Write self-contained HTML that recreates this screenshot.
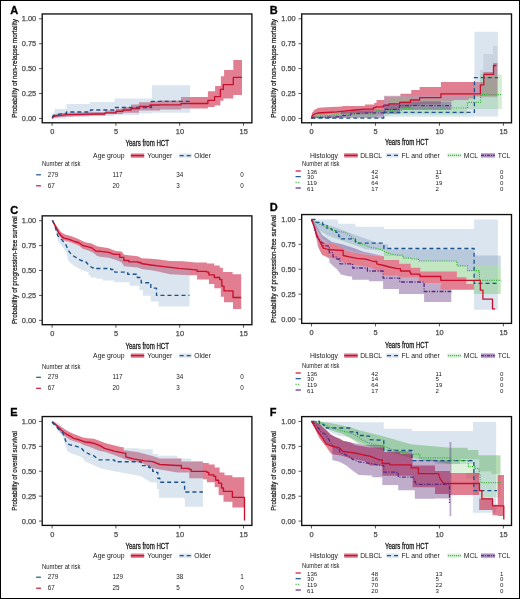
<!DOCTYPE html><html><head><meta charset="utf-8"><style>html,body{margin:0;padding:0;background:#fff;}svg{display:block;will-change:transform;}</style></head><body><svg width="520" height="599" viewBox="0 0 520 599" font-family='"Liberation Sans", sans-serif'>
<rect x="0" y="0" width="520" height="599" fill="#fff"/>
<text x="10.30" y="13.70" font-size="11.0" font-weight="bold" fill="#000" stroke="#000" stroke-width="0.3">A</text>
<text x="0" y="0" font-size="7.6" fill="#1a1a1a" stroke="#1a1a1a" stroke-width="0.25" text-anchor="middle" textLength="98.9" lengthAdjust="spacingAndGlyphs" transform="translate(16.60,68.38) rotate(-90)">Probability of non-relapse mortality</text>
<line x1="39.00" y1="18.80" x2="42.20" y2="18.80" stroke="#444" stroke-width="0.9"/>
<text x="36.20" y="21.45" font-size="7.4" text-anchor="end" fill="#4d4d4d" stroke="#4d4d4d" stroke-width="0.25">1.00</text>
<line x1="39.00" y1="43.71" x2="42.20" y2="43.71" stroke="#444" stroke-width="0.9"/>
<text x="36.20" y="46.36" font-size="7.4" text-anchor="end" fill="#4d4d4d" stroke="#4d4d4d" stroke-width="0.25">0.75</text>
<line x1="39.00" y1="68.62" x2="42.20" y2="68.62" stroke="#444" stroke-width="0.9"/>
<text x="36.20" y="71.28" font-size="7.4" text-anchor="end" fill="#4d4d4d" stroke="#4d4d4d" stroke-width="0.25">0.50</text>
<line x1="39.00" y1="93.54" x2="42.20" y2="93.54" stroke="#444" stroke-width="0.9"/>
<text x="36.20" y="96.19" font-size="7.4" text-anchor="end" fill="#4d4d4d" stroke="#4d4d4d" stroke-width="0.25">0.25</text>
<line x1="39.00" y1="118.45" x2="42.20" y2="118.45" stroke="#444" stroke-width="0.9"/>
<text x="36.20" y="121.10" font-size="7.4" text-anchor="end" fill="#4d4d4d" stroke="#4d4d4d" stroke-width="0.25">0.00</text>
<line x1="52.10" y1="122.80" x2="52.10" y2="125.80" stroke="#444" stroke-width="0.9"/>
<text x="52.30" y="134.40" font-size="7.4" text-anchor="middle" fill="#4d4d4d" stroke="#4d4d4d" stroke-width="0.25">0</text>
<line x1="115.90" y1="122.80" x2="115.90" y2="125.80" stroke="#444" stroke-width="0.9"/>
<text x="116.10" y="134.40" font-size="7.4" text-anchor="middle" fill="#4d4d4d" stroke="#4d4d4d" stroke-width="0.25">5</text>
<line x1="179.70" y1="122.80" x2="179.70" y2="125.80" stroke="#444" stroke-width="0.9"/>
<text x="179.90" y="134.40" font-size="7.4" text-anchor="middle" fill="#4d4d4d" stroke="#4d4d4d" stroke-width="0.25">10</text>
<line x1="243.50" y1="122.80" x2="243.50" y2="125.80" stroke="#444" stroke-width="0.9"/>
<text x="243.70" y="134.40" font-size="7.4" text-anchor="middle" fill="#4d4d4d" stroke="#4d4d4d" stroke-width="0.25">15</text>
<text x="125.40" y="145.80" font-size="8.3" textLength="43.6" lengthAdjust="spacingAndGlyphs" fill="#1a1a1a" stroke="#1a1a1a" stroke-width="0.3">Years from HCT</text>
<text x="269.80" y="13.70" font-size="11.0" font-weight="bold" fill="#000" stroke="#000" stroke-width="0.3">B</text>
<text x="0" y="0" font-size="7.6" fill="#1a1a1a" stroke="#1a1a1a" stroke-width="0.25" text-anchor="middle" textLength="98.9" lengthAdjust="spacingAndGlyphs" transform="translate(276.10,68.38) rotate(-90)">Probability of non-relapse mortality</text>
<line x1="298.50" y1="18.80" x2="301.70" y2="18.80" stroke="#444" stroke-width="0.9"/>
<text x="295.70" y="21.45" font-size="7.4" text-anchor="end" fill="#4d4d4d" stroke="#4d4d4d" stroke-width="0.25">1.00</text>
<line x1="298.50" y1="43.71" x2="301.70" y2="43.71" stroke="#444" stroke-width="0.9"/>
<text x="295.70" y="46.36" font-size="7.4" text-anchor="end" fill="#4d4d4d" stroke="#4d4d4d" stroke-width="0.25">0.75</text>
<line x1="298.50" y1="68.62" x2="301.70" y2="68.62" stroke="#444" stroke-width="0.9"/>
<text x="295.70" y="71.28" font-size="7.4" text-anchor="end" fill="#4d4d4d" stroke="#4d4d4d" stroke-width="0.25">0.50</text>
<line x1="298.50" y1="93.54" x2="301.70" y2="93.54" stroke="#444" stroke-width="0.9"/>
<text x="295.70" y="96.19" font-size="7.4" text-anchor="end" fill="#4d4d4d" stroke="#4d4d4d" stroke-width="0.25">0.25</text>
<line x1="298.50" y1="118.45" x2="301.70" y2="118.45" stroke="#444" stroke-width="0.9"/>
<text x="295.70" y="121.10" font-size="7.4" text-anchor="end" fill="#4d4d4d" stroke="#4d4d4d" stroke-width="0.25">0.00</text>
<line x1="311.45" y1="122.80" x2="311.45" y2="125.80" stroke="#444" stroke-width="0.9"/>
<text x="311.65" y="134.40" font-size="7.4" text-anchor="middle" fill="#4d4d4d" stroke="#4d4d4d" stroke-width="0.25">0</text>
<line x1="375.44" y1="122.80" x2="375.44" y2="125.80" stroke="#444" stroke-width="0.9"/>
<text x="375.63" y="134.40" font-size="7.4" text-anchor="middle" fill="#4d4d4d" stroke="#4d4d4d" stroke-width="0.25">5</text>
<line x1="439.42" y1="122.80" x2="439.42" y2="125.80" stroke="#444" stroke-width="0.9"/>
<text x="439.62" y="134.40" font-size="7.4" text-anchor="middle" fill="#4d4d4d" stroke="#4d4d4d" stroke-width="0.25">10</text>
<line x1="503.40" y1="122.80" x2="503.40" y2="125.80" stroke="#444" stroke-width="0.9"/>
<text x="503.60" y="134.40" font-size="7.4" text-anchor="middle" fill="#4d4d4d" stroke="#4d4d4d" stroke-width="0.25">15</text>
<text x="384.90" y="145.30" font-size="8.3" textLength="43.6" lengthAdjust="spacingAndGlyphs" fill="#1a1a1a" stroke="#1a1a1a" stroke-width="0.3">Years from HCT</text>
<text x="10.30" y="213.50" font-size="11.0" font-weight="bold" fill="#000" stroke="#000" stroke-width="0.3">C</text>
<text x="0" y="0" font-size="7.6" fill="#1a1a1a" stroke="#1a1a1a" stroke-width="0.25" text-anchor="middle" textLength="107.7" lengthAdjust="spacingAndGlyphs" transform="translate(16.60,270.27) rotate(-90)">Probability of progression-free survival</text>
<line x1="39.00" y1="220.70" x2="42.20" y2="220.70" stroke="#444" stroke-width="0.9"/>
<text x="36.20" y="223.35" font-size="7.4" text-anchor="end" fill="#4d4d4d" stroke="#4d4d4d" stroke-width="0.25">1.00</text>
<line x1="39.00" y1="245.61" x2="42.20" y2="245.61" stroke="#444" stroke-width="0.9"/>
<text x="36.20" y="248.26" font-size="7.4" text-anchor="end" fill="#4d4d4d" stroke="#4d4d4d" stroke-width="0.25">0.75</text>
<line x1="39.00" y1="270.53" x2="42.20" y2="270.53" stroke="#444" stroke-width="0.9"/>
<text x="36.20" y="273.18" font-size="7.4" text-anchor="end" fill="#4d4d4d" stroke="#4d4d4d" stroke-width="0.25">0.50</text>
<line x1="39.00" y1="295.44" x2="42.20" y2="295.44" stroke="#444" stroke-width="0.9"/>
<text x="36.20" y="298.09" font-size="7.4" text-anchor="end" fill="#4d4d4d" stroke="#4d4d4d" stroke-width="0.25">0.25</text>
<line x1="39.00" y1="320.35" x2="42.20" y2="320.35" stroke="#444" stroke-width="0.9"/>
<text x="36.20" y="323.00" font-size="7.4" text-anchor="end" fill="#4d4d4d" stroke="#4d4d4d" stroke-width="0.25">0.00</text>
<line x1="52.10" y1="324.70" x2="52.10" y2="327.70" stroke="#444" stroke-width="0.9"/>
<text x="52.30" y="336.30" font-size="7.4" text-anchor="middle" fill="#4d4d4d" stroke="#4d4d4d" stroke-width="0.25">0</text>
<line x1="115.90" y1="324.70" x2="115.90" y2="327.70" stroke="#444" stroke-width="0.9"/>
<text x="116.10" y="336.30" font-size="7.4" text-anchor="middle" fill="#4d4d4d" stroke="#4d4d4d" stroke-width="0.25">5</text>
<line x1="179.70" y1="324.70" x2="179.70" y2="327.70" stroke="#444" stroke-width="0.9"/>
<text x="179.90" y="336.30" font-size="7.4" text-anchor="middle" fill="#4d4d4d" stroke="#4d4d4d" stroke-width="0.25">10</text>
<line x1="243.50" y1="324.70" x2="243.50" y2="327.70" stroke="#444" stroke-width="0.9"/>
<text x="243.70" y="336.30" font-size="7.4" text-anchor="middle" fill="#4d4d4d" stroke="#4d4d4d" stroke-width="0.25">15</text>
<text x="125.40" y="348.60" font-size="8.3" textLength="43.6" lengthAdjust="spacingAndGlyphs" fill="#1a1a1a" stroke="#1a1a1a" stroke-width="0.3">Years from HCT</text>
<text x="269.80" y="211.40" font-size="11.0" font-weight="bold" fill="#000" stroke="#000" stroke-width="0.3">D</text>
<text x="0" y="0" font-size="7.6" fill="#1a1a1a" stroke="#1a1a1a" stroke-width="0.25" text-anchor="middle" textLength="107.7" lengthAdjust="spacingAndGlyphs" transform="translate(276.10,268.98) rotate(-90)">Probability of progression-free survival</text>
<line x1="298.50" y1="219.40" x2="301.70" y2="219.40" stroke="#444" stroke-width="0.9"/>
<text x="295.70" y="222.05" font-size="7.4" text-anchor="end" fill="#4d4d4d" stroke="#4d4d4d" stroke-width="0.25">1.00</text>
<line x1="298.50" y1="244.31" x2="301.70" y2="244.31" stroke="#444" stroke-width="0.9"/>
<text x="295.70" y="246.96" font-size="7.4" text-anchor="end" fill="#4d4d4d" stroke="#4d4d4d" stroke-width="0.25">0.75</text>
<line x1="298.50" y1="269.23" x2="301.70" y2="269.23" stroke="#444" stroke-width="0.9"/>
<text x="295.70" y="271.88" font-size="7.4" text-anchor="end" fill="#4d4d4d" stroke="#4d4d4d" stroke-width="0.25">0.50</text>
<line x1="298.50" y1="294.14" x2="301.70" y2="294.14" stroke="#444" stroke-width="0.9"/>
<text x="295.70" y="296.79" font-size="7.4" text-anchor="end" fill="#4d4d4d" stroke="#4d4d4d" stroke-width="0.25">0.25</text>
<line x1="298.50" y1="319.05" x2="301.70" y2="319.05" stroke="#444" stroke-width="0.9"/>
<text x="295.70" y="321.70" font-size="7.4" text-anchor="end" fill="#4d4d4d" stroke="#4d4d4d" stroke-width="0.25">0.00</text>
<line x1="311.45" y1="323.40" x2="311.45" y2="326.40" stroke="#444" stroke-width="0.9"/>
<text x="311.65" y="335.00" font-size="7.4" text-anchor="middle" fill="#4d4d4d" stroke="#4d4d4d" stroke-width="0.25">0</text>
<line x1="375.44" y1="323.40" x2="375.44" y2="326.40" stroke="#444" stroke-width="0.9"/>
<text x="375.63" y="335.00" font-size="7.4" text-anchor="middle" fill="#4d4d4d" stroke="#4d4d4d" stroke-width="0.25">5</text>
<line x1="439.42" y1="323.40" x2="439.42" y2="326.40" stroke="#444" stroke-width="0.9"/>
<text x="439.62" y="335.00" font-size="7.4" text-anchor="middle" fill="#4d4d4d" stroke="#4d4d4d" stroke-width="0.25">10</text>
<line x1="503.40" y1="323.40" x2="503.40" y2="326.40" stroke="#444" stroke-width="0.9"/>
<text x="503.60" y="335.00" font-size="7.4" text-anchor="middle" fill="#4d4d4d" stroke="#4d4d4d" stroke-width="0.25">15</text>
<text x="384.90" y="347.90" font-size="8.3" textLength="43.6" lengthAdjust="spacingAndGlyphs" fill="#1a1a1a" stroke="#1a1a1a" stroke-width="0.3">Years from HCT</text>
<text x="10.30" y="415.50" font-size="11.0" font-weight="bold" fill="#000" stroke="#000" stroke-width="0.3">E</text>
<text x="0" y="0" font-size="7.6" fill="#1a1a1a" stroke="#1a1a1a" stroke-width="0.25" text-anchor="middle" textLength="79.6" lengthAdjust="spacingAndGlyphs" transform="translate(16.60,470.98) rotate(-90)">Probability of overall survival</text>
<line x1="39.00" y1="421.40" x2="42.20" y2="421.40" stroke="#444" stroke-width="0.9"/>
<text x="36.20" y="424.05" font-size="7.4" text-anchor="end" fill="#4d4d4d" stroke="#4d4d4d" stroke-width="0.25">1.00</text>
<line x1="39.00" y1="446.31" x2="42.20" y2="446.31" stroke="#444" stroke-width="0.9"/>
<text x="36.20" y="448.96" font-size="7.4" text-anchor="end" fill="#4d4d4d" stroke="#4d4d4d" stroke-width="0.25">0.75</text>
<line x1="39.00" y1="471.23" x2="42.20" y2="471.23" stroke="#444" stroke-width="0.9"/>
<text x="36.20" y="473.88" font-size="7.4" text-anchor="end" fill="#4d4d4d" stroke="#4d4d4d" stroke-width="0.25">0.50</text>
<line x1="39.00" y1="496.14" x2="42.20" y2="496.14" stroke="#444" stroke-width="0.9"/>
<text x="36.20" y="498.79" font-size="7.4" text-anchor="end" fill="#4d4d4d" stroke="#4d4d4d" stroke-width="0.25">0.25</text>
<line x1="39.00" y1="521.05" x2="42.20" y2="521.05" stroke="#444" stroke-width="0.9"/>
<text x="36.20" y="523.70" font-size="7.4" text-anchor="end" fill="#4d4d4d" stroke="#4d4d4d" stroke-width="0.25">0.00</text>
<line x1="52.10" y1="525.40" x2="52.10" y2="528.40" stroke="#444" stroke-width="0.9"/>
<text x="52.30" y="537.00" font-size="7.4" text-anchor="middle" fill="#4d4d4d" stroke="#4d4d4d" stroke-width="0.25">0</text>
<line x1="115.90" y1="525.40" x2="115.90" y2="528.40" stroke="#444" stroke-width="0.9"/>
<text x="116.10" y="537.00" font-size="7.4" text-anchor="middle" fill="#4d4d4d" stroke="#4d4d4d" stroke-width="0.25">5</text>
<line x1="179.70" y1="525.40" x2="179.70" y2="528.40" stroke="#444" stroke-width="0.9"/>
<text x="179.90" y="537.00" font-size="7.4" text-anchor="middle" fill="#4d4d4d" stroke="#4d4d4d" stroke-width="0.25">10</text>
<line x1="243.50" y1="525.40" x2="243.50" y2="528.40" stroke="#444" stroke-width="0.9"/>
<text x="243.70" y="537.00" font-size="7.4" text-anchor="middle" fill="#4d4d4d" stroke="#4d4d4d" stroke-width="0.25">15</text>
<text x="125.40" y="549.00" font-size="8.3" textLength="43.6" lengthAdjust="spacingAndGlyphs" fill="#1a1a1a" stroke="#1a1a1a" stroke-width="0.3">Years from HCT</text>
<text x="269.80" y="415.50" font-size="11.0" font-weight="bold" fill="#000" stroke="#000" stroke-width="0.3">F</text>
<text x="0" y="0" font-size="7.6" fill="#1a1a1a" stroke="#1a1a1a" stroke-width="0.25" text-anchor="middle" textLength="79.6" lengthAdjust="spacingAndGlyphs" transform="translate(276.10,471.02) rotate(-90)">Probability of overall survival</text>
<line x1="298.50" y1="421.45" x2="301.70" y2="421.45" stroke="#444" stroke-width="0.9"/>
<text x="295.70" y="424.10" font-size="7.4" text-anchor="end" fill="#4d4d4d" stroke="#4d4d4d" stroke-width="0.25">1.00</text>
<line x1="298.50" y1="446.36" x2="301.70" y2="446.36" stroke="#444" stroke-width="0.9"/>
<text x="295.70" y="449.01" font-size="7.4" text-anchor="end" fill="#4d4d4d" stroke="#4d4d4d" stroke-width="0.25">0.75</text>
<line x1="298.50" y1="471.28" x2="301.70" y2="471.28" stroke="#444" stroke-width="0.9"/>
<text x="295.70" y="473.93" font-size="7.4" text-anchor="end" fill="#4d4d4d" stroke="#4d4d4d" stroke-width="0.25">0.50</text>
<line x1="298.50" y1="496.19" x2="301.70" y2="496.19" stroke="#444" stroke-width="0.9"/>
<text x="295.70" y="498.84" font-size="7.4" text-anchor="end" fill="#4d4d4d" stroke="#4d4d4d" stroke-width="0.25">0.25</text>
<line x1="298.50" y1="521.10" x2="301.70" y2="521.10" stroke="#444" stroke-width="0.9"/>
<text x="295.70" y="523.75" font-size="7.4" text-anchor="end" fill="#4d4d4d" stroke="#4d4d4d" stroke-width="0.25">0.00</text>
<line x1="311.45" y1="525.45" x2="311.45" y2="528.45" stroke="#444" stroke-width="0.9"/>
<text x="311.65" y="537.05" font-size="7.4" text-anchor="middle" fill="#4d4d4d" stroke="#4d4d4d" stroke-width="0.25">0</text>
<line x1="375.44" y1="525.45" x2="375.44" y2="528.45" stroke="#444" stroke-width="0.9"/>
<text x="375.63" y="537.05" font-size="7.4" text-anchor="middle" fill="#4d4d4d" stroke="#4d4d4d" stroke-width="0.25">5</text>
<line x1="439.42" y1="525.45" x2="439.42" y2="528.45" stroke="#444" stroke-width="0.9"/>
<text x="439.62" y="537.05" font-size="7.4" text-anchor="middle" fill="#4d4d4d" stroke="#4d4d4d" stroke-width="0.25">10</text>
<line x1="503.40" y1="525.45" x2="503.40" y2="528.45" stroke="#444" stroke-width="0.9"/>
<text x="503.60" y="537.05" font-size="7.4" text-anchor="middle" fill="#4d4d4d" stroke="#4d4d4d" stroke-width="0.25">15</text>
<text x="384.90" y="548.70" font-size="8.3" textLength="43.6" lengthAdjust="spacingAndGlyphs" fill="#1a1a1a" stroke="#1a1a1a" stroke-width="0.3">Years from HCT</text>
<path d="M52.1,117.5 53.0,115.0 56.0,114.0 62.0,113.0 80.0,112.5 95.0,111.9 105.0,111.9 105.0,110.6 116.0,110.6 116.0,108.8 123.0,108.8 123.0,106.9 131.0,106.9 131.0,104.4 139.0,104.4 139.0,102.2 150.0,102.2 150.0,101.2 160.0,101.2 160.0,100.5 181.0,100.5 181.0,97.1 207.9,97.1 207.9,91.2 215.1,91.2 215.1,85.9 220.9,85.9 220.9,76.2 224.1,76.2 224.1,70.1 233.3,70.1 233.3,60.1 242.0,60.1 242.0,95.0 233.3,95.0 233.3,98.4 223.5,98.4 223.5,100.8 220.4,100.8 220.4,105.6 214.6,105.6 214.6,107.1 207.9,107.1 207.9,108.4 181.0,108.4 181.0,109.5 160.0,109.5 160.0,110.6 139.0,110.6 139.0,112.8 123.0,112.8 123.0,114.0 105.0,114.0 105.0,115.6 95.0,115.6 70.0,116.5 55.0,117.5 52.1,118.6Z" fill="rgba(200,20,55,0.55)"/>
<path d="M52.1,113.5 54.5,113.5 54.5,109.0 66.5,109.0 66.5,104.0 90.0,104.0 90.0,101.9 114.4,101.9 114.4,98.5 151.9,98.5 151.9,85.2 190.0,85.2 190.0,112.7 151.9,112.7 151.9,113.5 139.0,113.5 139.0,115.0 114.4,115.0 114.4,116.0 90.0,116.0 90.0,117.0 66.5,117.0 66.5,118.4 52.1,118.4Z" fill="rgba(150,180,210,0.35)"/>
<path d="M52.1,118.4 53.0,116.8 55.0,116.0 60.0,115.3 68.0,114.7 80.0,114.3 95.0,114.0 105.0,114.0 105.0,112.8 116.2,112.8 116.2,111.2 123.0,111.2 123.0,110.0 131.2,110.0 131.2,108.5 139.4,108.5 139.4,106.5 150.0,106.5 150.0,105.0 160.0,105.0 160.0,104.8 181.0,104.8 181.0,103.5 207.9,103.5 207.9,100.3 214.6,100.3 214.6,96.6 220.4,96.6 220.4,89.4 223.3,89.4 223.3,84.6 233.3,84.6 233.3,77.4 242.1,77.4" fill="none" stroke="#c8102e" stroke-width="1.35" stroke-linejoin="round"/>
<path d="M52.1,117.5 53.5,115.5 57.0,114.5 63.0,113.5 66.5,113.5 66.5,112.0 90.5,112.0 90.5,110.0 113.8,110.0 113.8,107.5 151.5,107.5 151.5,101.4 190.0,101.4" fill="none" stroke="#1a528c" stroke-width="1.35" stroke-dasharray="4,3" stroke-linejoin="round"/>
<path d="M52.4,220.0 56.6,226.0 60.9,231.9 65.1,234.6 71.5,236.2 76.7,238.3 81.5,240.4 85.2,242.3 91.6,243.6 96.9,246.2 100.0,246.7 108.7,248.3 115.7,250.9 121.5,251.4 124.2,254.8 137.7,256.2 141.7,258.2 151.1,258.8 159.2,259.5 170.0,260.9 183.1,261.3 196.0,262.4 206.8,262.4 206.8,263.5 214.3,263.5 214.3,265.6 219.7,265.6 219.7,267.8 222.9,267.8 222.9,272.1 232.6,272.1 232.6,274.2 241.2,274.2 241.2,309.1 233.0,309.1 233.0,302.2 224.0,302.2 224.0,296.8 220.8,296.8 220.8,288.2 214.3,288.2 214.3,283.9 208.9,283.9 208.9,279.6 197.1,279.6 197.1,275.3 189.5,275.3 170.0,274.3 157.9,271.6 151.1,270.3 141.7,268.9 137.7,267.6 124.2,266.2 121.5,262.2 114.8,259.5 108.7,257.8 100.0,256.8 96.9,255.7 93.7,253.1 88.4,250.4 83.1,248.9 78.9,245.7 73.6,243.6 68.3,241.5 62.5,239.9 58.2,234.6 52.4,221.0Z" fill="rgba(200,20,55,0.55)"/>
<path d="M52.9,221.0 56.6,228.6 59.8,235.5 62.5,239.7 69.3,241.8 74.6,244.0 83.1,248.2 91.6,250.3 95.8,252.5 106.7,254.0 114.8,255.3 117.5,255.3 117.5,257.3 121.5,257.3 121.5,258.0 124.2,258.0 124.2,260.7 126.9,260.7 126.9,262.0 137.7,262.0 137.7,263.1 141.7,263.1 141.7,264.7 151.1,264.7 151.1,265.4 156.5,265.4 156.5,266.7 164.6,266.7 164.6,267.4 178.8,268.9 189.5,268.9 189.5,306.6 158.5,306.6 158.5,301.5 150.8,301.5 150.8,295.8 143.0,295.8 143.0,290.0 139.2,290.0 139.2,285.8 129.6,285.8 129.6,282.3 114.2,282.3 114.2,280.4 102.7,280.4 102.7,278.8 96.5,278.8 96.5,277.6 90.5,277.6 90.5,275.0 88.4,275.0 88.4,272.1 87.3,272.1 82.0,270.0 77.8,267.9 72.5,264.7 68.3,260.5 66.2,252.0 62.5,246.7 58.2,241.5 55.6,229.8 52.9,221.3Z" fill="rgba(150,180,210,0.35)"/>
<path d="M52.4,220.3 55.6,226.6 58.8,233.0 62.5,237.2 64.0,238.1 69.3,239.3 74.6,241.5 78.9,242.7 83.1,245.7 87.3,246.7 91.6,247.8 95.8,251.0 100.6,251.4 108.7,252.4 114.2,254.4 119.8,254.4 119.8,257.4 123.8,257.4 123.8,260.5 128.9,260.5 128.9,261.9 138.0,261.9 138.0,262.5 141.0,262.5 141.0,263.5 150.8,265.0 163.7,266.7 178.8,268.4 196.0,269.9 197.1,269.9 197.1,271.4 206.8,271.4 206.8,272.1 208.9,272.1 208.9,274.9 214.3,274.9 214.3,277.5 219.7,277.5 219.7,279.6 221.8,279.6 221.8,286.1 224.0,286.1 224.0,290.8 233.0,290.8 233.0,297.5 241.2,297.5" fill="none" stroke="#c8102e" stroke-width="1.35" stroke-linejoin="round"/>
<path d="M52.4,220.3 55.1,226.6 57.7,235.6 61.9,239.9 65.6,244.1 68.3,250.4 71.5,254.7 75.7,257.3 81.0,260.5 85.2,261.0 89.4,265.8 92.6,267.9 96.5,267.9 96.5,268.5 110.7,268.5 110.7,269.5 114.7,269.5 114.7,272.1 127.7,272.1 127.7,274.2 137.3,274.2 137.3,277.5 141.2,277.5 141.2,282.7 150.8,282.7 150.8,288.1 156.5,288.1 156.5,295.4 189.5,295.4" fill="none" stroke="#1a528c" stroke-width="1.35" stroke-dasharray="4,3" stroke-linejoin="round"/>
<path d="M52.4,421.2 56.6,424.0 61.9,427.2 66.2,430.3 72.5,433.5 76.7,435.1 82.0,437.2 87.3,438.3 93.7,438.8 100.0,440.9 106.5,443.5 121.9,447.3 123.8,447.3 123.8,450.2 137.3,452.1 152.7,456.0 159.8,458.6 177.5,458.6 177.5,458.6 181.4,458.6 181.4,461.6 202.9,461.6 202.9,463.1 208.8,463.1 208.8,464.5 214.7,464.5 214.7,467.5 219.6,467.5 219.6,472.4 224.5,472.4 224.5,475.3 232.4,475.3 232.4,477.3 244.3,477.3 244.3,507.6 232.4,507.6 232.4,501.8 223.5,501.8 223.5,494.9 218.6,494.9 218.6,487.1 214.7,487.1 214.7,482.2 206.9,482.2 206.9,479.2 202.9,479.2 202.9,478.2 189.2,478.2 189.2,472.4 177.5,472.4 159.8,469.4 150.0,467.5 145.0,464.6 141.2,462.7 133.5,461.7 123.8,458.8 114.2,455.0 104.6,451.8 100.0,451.0 94.7,448.9 89.4,446.7 84.2,445.2 79.9,443.0 74.6,441.5 70.4,439.9 66.2,437.2 60.9,433.0 55.6,425.6 52.4,422.0Z" fill="rgba(200,20,55,0.55)"/>
<path d="M53.5,421.3 58.8,423.5 63.0,427.7 67.2,436.6 70.4,438.2 77.8,441.3 85.2,444.0 94.7,445.6 100.0,447.7 114.2,452.2 123.8,452.2 123.8,448.3 139.2,448.3 139.2,449.2 152.7,449.2 152.7,454.0 157.8,454.0 157.8,455.7 177.5,455.7 177.5,458.6 191.2,458.6 191.2,461.6 202.9,461.6 202.9,506.7 184.9,506.7 184.9,498.8 184.3,498.8 184.3,497.8 158.8,497.8 158.8,489.0 156.9,489.0 156.9,482.5 150.8,482.5 141.2,476.2 114.2,471.3 100.8,468.5 94.7,465.8 90.5,463.7 85.2,461.6 82.0,457.3 76.7,455.2 71.5,453.6 67.2,451.0 65.1,444.6 63.0,436.2 57.7,430.9 53.5,422.9Z" fill="rgba(150,180,210,0.35)"/>
<path d="M52.4,421.5 56.6,425.6 60.9,429.8 64.0,432.5 67.2,434.6 70.4,436.2 73.6,438.3 77.8,439.3 82.0,440.9 85.2,442.0 90.5,442.5 94.7,443.6 100.0,445.7 104.6,448.3 114.2,451.2 123.8,453.1 125.8,453.1 125.8,456.9 133.5,458.8 145.0,460.8 152.7,461.7 159.8,464.5 177.5,465.5 181.4,465.5 181.4,468.4 189.2,468.4 189.2,469.4 191.2,469.4 191.2,471.4 206.9,471.4 206.9,472.4 208.8,472.4 208.8,474.9 213.7,474.9 213.7,476.3 215.7,476.3 215.7,480.2 218.6,480.2 218.6,483.1 221.6,483.1 221.6,488.0 223.5,488.0 223.5,491.4 232.4,491.4 232.4,497.3 244.5,497.3 244.5,520.5 244.5,520.5" fill="none" stroke="#c8102e" stroke-width="1.35" stroke-linejoin="round"/>
<path d="M51.9,422.2 55.6,426.1 59.8,430.3 62.5,432.5 64.0,435.6 66.2,442.5 69.3,444.6 75.7,446.2 81.0,447.8 84.2,451.5 89.4,454.2 93.7,455.7 98.8,459.8 114.2,459.8 114.2,460.8 116.2,460.8 116.2,461.7 141.2,461.7 141.2,465.6 148.8,465.6 148.8,467.5 152.7,467.5 152.7,471.3 155.9,471.3 155.9,472.4 157.8,472.4 157.8,478.2 159.8,478.2 159.8,482.2 184.6,482.2 184.6,492.0 202.9,492.0" fill="none" stroke="#1a528c" stroke-width="1.35" stroke-dasharray="4,3" stroke-linejoin="round"/>
<path d="M311.3,117.5 311.9,113.0 314.5,109.8 318.8,107.7 326.2,107.2 342.0,106.6 342.6,106.6 342.6,106.1 355.0,106.1 355.0,106.1 365.0,106.1 365.0,104.6 374.2,104.6 374.2,103.1 376.5,103.1 376.5,100.0 384.2,100.0 384.2,96.2 400.4,96.2 400.4,93.8 411.2,93.8 411.2,90.0 419.6,90.0 419.6,86.9 440.9,86.9 440.9,82.1 480.1,82.1 480.1,82.0 483.3,82.0 483.3,72.0 493.0,72.0 493.0,63.0 497.4,63.0 497.4,96.5 475.2,96.5 475.2,98.6 468.8,98.6 468.8,99.9 453.6,99.9 453.6,101.1 440.9,101.1 440.9,104.6 419.6,104.6 419.6,105.4 411.2,105.4 411.2,107.7 399.6,107.7 399.6,110.0 384.2,110.0 384.2,111.5 373.5,111.5 373.5,113.0 355.0,113.0 342.0,114.0 336.7,114.6 320.9,114.9 315.6,115.6 312.4,117.8 311.3,118.3Z" fill="rgba(200,20,55,0.55)"/>
<path d="M383.8,95.6 474.4,95.6 474.4,31.8 497.9,31.8 497.9,116.4 474.4,116.4 474.4,116.8 383.8,116.8Z" fill="rgba(150,180,210,0.35)"/>
<path d="M480.1,70.0 483.3,70.0 483.3,54.1 493.0,54.1 493.0,46.0 497.4,46.0 497.4,97.8 480.1,97.8Z" fill="rgba(110,125,150,0.16)"/>
<path d="M311.3,117.5 313.5,114.5 326.2,113.2 347.3,112.0 350.5,112.0 350.5,111.5 376.5,111.5 376.5,109.0 389.0,109.0 389.0,97.0 411.5,97.0 411.5,99.0 467.1,99.0 467.1,96.2 480.1,96.2 480.1,74.4 501.9,74.4 501.9,109.1 467.1,109.1 467.1,114.5 389.0,114.5 389.0,116.0 376.5,116.0 376.5,117.5 347.3,117.5 311.3,118.3Z" fill="rgba(120,200,120,0.3)"/>
<path d="M311.3,117.5 315.6,115.5 330.4,115.0 339.9,114.5 341.0,114.5 341.0,112.0 350.5,112.0 350.5,110.5 384.0,110.5 384.0,104.0 400.0,104.0 400.0,101.5 451.3,101.5 451.3,110.0 400.0,110.0 400.0,114.0 384.0,114.0 384.0,118.0 341.0,118.0 341.0,118.3 311.3,118.3Z" fill="rgba(90,40,120,0.38)"/>
<path d="M311.3,118.1 383.8,118.1 383.8,112.4 474.4,112.4 474.4,77.6 497.9,77.6" fill="none" stroke="#1a528c" stroke-width="1.3" stroke-dasharray="4,3" stroke-linejoin="round"/>
<path d="M311.3,118.1 313.5,116.7 315.6,116.2 326.2,115.6 336.7,114.9 347.3,114.6 350.5,114.6 350.5,114.0 375.0,114.0 375.0,112.3 376.5,112.3 376.5,110.8 401.1,110.8 401.1,110.3 402.0,110.3 402.0,108.5 413.0,108.5 413.0,108.0 467.5,108.0 467.5,102.3 480.6,102.3 480.6,94.6 501.1,94.6" fill="none" stroke="#2fb12f" stroke-width="1.2" stroke-dasharray="1,1.3" stroke-linejoin="round"/>
<path d="M311.3,118.1 315.6,117.4 330.4,117.2 339.9,116.7 341.0,116.7 341.0,115.6 349.4,115.6 349.4,115.1 350.5,115.1 350.5,113.8 370.0,112.9 383.8,112.9 383.8,112.0 384.7,112.0 384.7,109.4 399.4,109.4 399.4,105.6 451.3,105.6" fill="none" stroke="#5b2a86" stroke-width="1.3" stroke-dasharray="4,1.5,1,1.5" stroke-linejoin="round"/>
<path d="M311.3,118.3 312.4,115.6 314.5,114.0 317.7,113.0 326.2,112.5 336.7,111.9 342.0,111.4 355.0,110.0 365.0,109.2 373.5,109.2 373.5,107.7 375.8,107.7 375.8,106.9 383.5,106.9 383.5,105.4 388.8,105.4 388.8,103.8 399.6,103.8 399.6,102.3 410.4,102.3 410.4,100.0 419.6,100.0 419.6,97.7 440.9,97.7 440.9,93.8 480.4,93.8 480.4,84.9 483.8,84.9 483.8,74.4 493.5,74.4 493.5,65.5 496.3,65.5" fill="none" stroke="#c8102e" stroke-width="1.3" stroke-linejoin="round"/>
<path d="M311.5,219.4 337.5,219.4 337.5,220.4 338.1,220.4 338.1,223.7 355.5,223.7 355.5,226.8 383.9,226.8 383.9,228.9 474.1,228.9 474.1,219.4 497.8,219.4 497.8,309.7 474.1,309.7 474.1,271.1 467.5,271.1 467.5,266.3 456.9,266.3 456.9,261.5 418.5,261.5 418.5,259.5 410.8,259.5 410.8,258.6 403.1,258.6 403.1,256.0 399.2,256.0 399.2,256.0 383.8,256.0 370.0,254.0 355.0,252.0 340.0,248.0 330.0,244.0 322.0,238.0 315.0,226.0 311.5,219.4Z" fill="rgba(150,180,210,0.35)"/>
<path d="M311.5,219.4 320.0,222.6 335.4,227.2 355.4,234.9 381.5,244.2 388.0,244.2 388.0,249.4 474.1,249.4 474.1,255.4 500.8,255.4 500.8,265.9 474.1,265.9 474.1,271.1 467.5,271.1 467.5,266.3 456.9,266.3 456.9,261.5 418.5,261.5 418.5,259.5 410.8,259.5 410.8,258.6 403.1,258.6 403.1,255.7 399.2,255.7 399.2,254.7 391.5,254.7 391.5,252.8 385.8,252.8 385.8,250.3 381.5,250.3 366.2,248.8 355.4,244.9 340.0,239.5 327.7,234.9 320.0,230.3 311.5,219.4Z" fill="rgba(120,150,185,0.35)"/>
<path d="M311.5,219.4 320.0,230.3 327.7,234.9 340.0,239.5 355.4,244.9 366.2,248.8 381.5,250.3 385.8,250.3 385.8,252.8 391.5,252.8 391.5,254.7 399.2,254.7 399.2,255.7 403.1,255.7 403.1,258.6 410.8,258.6 410.8,259.5 418.5,259.5 418.5,261.5 456.9,261.5 456.9,266.3 467.5,266.3 467.5,271.1 474.1,271.1 474.1,265.9 500.8,265.9 500.8,294.0 474.1,294.0 474.1,285.0 466.5,285.0 466.5,278.3 456.9,278.3 456.9,272.5 420.4,272.5 420.4,268.7 410.8,268.7 410.8,264.8 399.2,264.8 399.2,261.0 383.8,261.0 383.8,250.8 381.5,250.8 366.2,249.3 355.4,245.4 340.0,240.0 327.7,235.4 320.0,230.8 311.5,219.4Z" fill="rgba(120,200,120,0.45)"/>
<path d="M311.5,219.4 313.7,221.0 318.0,228.0 322.0,235.0 332.0,242.0 342.0,244.3 354.5,248.3 362.6,251.4 383.0,256.0 383.8,256.0 383.8,272.0 440.6,272.0 440.6,285.0 451.3,285.0 451.3,302.0 424.1,302.0 424.1,293.9 398.9,293.9 398.9,289.1 383.1,289.1 383.1,281.2 368.9,281.2 368.9,279.7 352.1,279.7 352.1,276.5 349.4,276.5 341.0,274.4 336.7,269.1 333.6,266.5 329.3,262.2 329.3,258.5 328.8,258.5 323.5,255.3 320.3,251.6 317.7,246.3 316.6,240.0 311.5,219.4Z" fill="rgba(90,40,120,0.38)"/>
<path d="M311.5,219.4 315.8,229.1 319.1,236.7 322.4,241.0 326.7,243.2 333.2,243.7 337.5,245.4 341.9,247.5 346.2,250.8 353.8,252.5 360.0,253.5 366.0,254.5 373.7,255.5 380.0,256.2 383.8,256.2 383.8,260.0 399.2,260.0 399.2,263.8 410.8,263.8 410.8,267.7 420.4,267.7 420.4,271.5 456.9,271.5 456.9,277.3 466.5,277.3 466.5,284.0 474.2,284.0 474.2,289.8 440.6,289.8 440.6,283.1 424.2,283.1 424.2,281.2 418.5,281.2 418.5,277.3 399.2,277.3 399.2,275.4 383.8,275.4 383.8,272.5 380.0,272.5 375.2,269.4 368.9,267.0 364.1,266.3 360.0,265.4 351.6,264.9 345.2,263.3 341.0,261.2 336.7,259.0 329.3,257.5 321.9,254.8 318.8,247.4 318.0,241.0 315.3,232.4 311.5,219.4Z" fill="rgb(226,128,146)"/>
<path d="M311.5,219.4 315.5,219.4 315.5,222.4 322.6,222.4 322.6,224.6 327.0,224.6 327.0,228.9 332.0,228.9 332.0,230.0 335.9,230.0 335.9,232.3 338.8,232.3 338.8,236.6 339.7,236.6 339.7,238.8 355.4,238.8 355.4,243.2 383.9,243.2 383.9,248.5 474.1,248.5 474.1,283.4 496.9,283.4" fill="none" stroke="#1a528c" stroke-width="1.3" stroke-dasharray="4,3" stroke-linejoin="round"/>
<path d="M311.5,219.4 315.8,222.0 321.3,225.3 326.7,226.9 332.1,229.6 337.5,231.3 345.1,232.4 348.4,234.5 352.7,237.8 356.0,241.0 360.0,243.7 362.8,244.2 370.5,247.3 380.0,249.0 385.8,252.3 391.5,254.2 399.2,255.2 403.1,255.2 403.1,258.1 410.8,258.1 410.8,259.0 418.5,259.0 418.5,261.0 456.9,261.0 456.9,265.8 467.5,265.8 467.5,270.6 479.4,270.6 479.4,280.3 501.3,280.3" fill="none" stroke="#2fb12f" stroke-width="1.2" stroke-dasharray="1,1.3" stroke-linejoin="round"/>
<path d="M311.5,219.4 314.2,226.9 315.8,233.4 318.0,237.8 320.2,241.0 322.4,243.2 323.5,243.2 323.5,245.8 328.3,245.8 328.3,247.9 329.3,247.9 329.3,252.7 333.0,252.7 333.0,256.9 336.7,256.9 336.7,259.0 339.9,259.0 339.9,263.8 352.6,263.8 352.6,268.0 367.4,268.0 367.4,271.0 383.1,271.0 383.1,278.1 399.7,278.1 399.7,282.0 424.1,282.0 424.1,291.5 451.3,291.5" fill="none" stroke="#5b2a86" stroke-width="1.3" stroke-dasharray="4,1.5,1,1.5" stroke-linejoin="round"/>
<path d="M311.5,219.4 314.8,228.0 316.9,236.7 319.1,240.0 321.9,245.4 323.4,248.1 328.3,249.5 339.9,250.4 343.1,250.4 343.1,255.5 349.4,256.8 356.9,258.3 365.8,259.2 373.7,261.5 376.8,261.5 376.8,263.9 383.9,265.5 389.4,267.0 397.3,268.6 400.5,268.6 400.5,271.0 410.0,271.0 410.0,272.6 410.7,272.6 410.7,274.1 419.4,274.1 419.4,274.9 420.2,274.9 420.2,276.5 440.8,276.5 440.8,280.4 480.3,280.4 480.3,290.1 482.9,290.1 482.9,299.2 492.5,299.2 492.5,308.9 495.2,308.9" fill="none" stroke="#c8102e" stroke-width="1.3" stroke-linejoin="round"/>
<path d="M311.5,421.4 330.0,421.8 365.0,422.3 383.8,422.3 383.8,428.8 411.9,428.8 411.9,431.0 473.0,431.0 473.0,421.9 496.1,421.9 496.1,512.7 473.0,512.7 473.0,464.0 435.0,464.0 435.0,461.0 411.9,461.0 411.9,452.0 383.8,452.0 383.8,446.0 370.0,446.0 348.8,437.0 338.8,436.0 330.0,432.0 323.8,427.0 318.8,423.0 311.5,421.4Z" fill="rgba(150,180,210,0.35)"/>
<path d="M311.5,421.4 317.5,421.3 330.0,423.0 342.5,425.5 352.5,428.0 360.0,430.4 383.1,436.2 410.8,444.2 450.0,447.7 467.7,447.7 467.7,449.9 478.4,449.9 478.4,455.2 500.5,455.2 500.5,474.2 491.5,474.2 491.5,471.5 479.2,471.5 479.2,459.2 460.0,459.2 460.0,463.9 450.0,463.9 410.8,458.1 383.1,450.0 370.0,446.8 358.8,443.6 350.0,438.0 342.5,434.0 330.0,430.0 323.8,426.8 311.5,421.4Z" fill="rgba(70,170,70,0.4)"/>
<path d="M450.0,463.9 460.0,463.9 460.0,459.2 479.2,459.2 479.2,471.5 491.5,471.5 491.5,474.2 500.5,474.2 500.5,497.5 479.3,497.5 479.3,478.2 466.0,478.2 466.0,473.1 450.0,473.1Z" fill="rgba(120,200,120,0.25)"/>
<path d="M311.5,421.4 314.6,421.5 320.0,424.6 325.4,429.2 330.8,434.6 335.4,436.9 339.2,438.5 343.0,440.8 350.0,442.3 355.0,444.9 361.3,446.1 370.0,447.6 383.8,447.6 383.8,452.0 400.0,452.0 400.0,454.1 412.6,454.1 412.6,465.6 435.0,465.6 435.0,471.1 450.0,471.1 450.0,472.9 479.2,472.9 479.2,498.5 492.5,498.5 492.5,504.7 497.7,504.7 497.7,475.0 504.0,475.0 504.0,516.0 497.7,516.0 497.7,515.3 492.5,515.3 492.5,510.0 479.2,510.0 479.2,495.0 450.0,495.0 450.0,494.0 435.0,494.0 435.0,487.3 412.6,487.3 412.6,475.7 382.3,475.7 382.3,465.6 370.0,465.6 363.8,461.1 357.5,459.9 348.8,458.0 341.3,455.5 332.3,454.2 331.5,453.8 330.0,452.3 326.9,447.7 323.1,443.1 319.2,437.7 316.2,431.5 313.0,424.6 311.5,421.4Z" fill="rgba(200,20,55,0.55)"/>
<path d="M311.5,421.4 314.6,421.5 320.0,424.6 325.4,429.2 330.8,434.6 335.4,436.9 339.2,438.5 343.0,440.8 350.0,442.3 365.0,445.0 383.8,445.0 383.8,451.5 411.9,451.5 411.9,459.8 435.0,459.8 435.0,460.5 449.5,460.5 449.5,441.9 451.3,441.9 451.3,516.2 449.5,516.2 449.5,498.5 435.0,498.5 435.0,498.8 414.8,498.8 414.8,490.2 398.2,490.2 398.2,485.1 382.3,485.1 382.3,477.2 372.2,477.2 372.2,475.5 370.0,475.5 358.8,474.9 352.5,470.5 346.3,465.5 340.0,462.0 332.3,460.0 332.3,446.2 331.5,446.2 326.2,443.8 322.3,437.7 317.7,431.5 313.0,423.0 311.5,421.4Z" fill="rgba(90,40,120,0.38)"/>
<path d="M311.5,421.4 318.8,421.4 318.8,421.1 319.4,421.1 319.4,424.3 323.8,424.3 323.8,425.5 326.3,425.5 326.3,428.0 348.8,428.0 348.8,428.0 350.0,428.0 350.0,431.8 355.0,431.8 355.0,432.4 357.5,432.4 357.5,435.5 363.8,435.5 363.8,436.1 369.4,436.1 369.4,438.0 369.3,439.6 383.8,440.4 383.8,440.4 383.8,450.5 411.9,450.5 411.9,460.6 473.9,460.6 473.9,490.6 497.0,490.6" fill="none" stroke="#1a528c" stroke-width="1.3" stroke-dasharray="4,3" stroke-linejoin="round"/>
<path d="M311.5,421.4 318.8,421.8 323.8,424.3 330.0,427.4 336.3,429.3 342.5,431.1 348.8,432.4 355.0,434.9 361.3,439.3 367.5,442.4 373.7,444.7 383.8,446.1 391.0,449.0 401.0,451.9 412.6,454.1 419.8,454.1 419.8,457.8 451.0,457.8 451.0,460.5 467.7,460.5 467.7,461.4 468.4,461.4 468.4,466.7 475.2,466.7 475.2,468.4 479.2,468.4 479.2,474.6 480.1,474.6 480.1,482.6 500.5,482.6" fill="none" stroke="#2fb12f" stroke-width="1.2" stroke-dasharray="1,1.3" stroke-linejoin="round"/>
<path d="M311.5,421.4 313.0,422.3 315.4,424.6 319.2,429.2 321.5,432.7 325.4,434.2 327.7,437.7 330.4,442.3 333.0,446.2 339.2,449.2 340.0,452.3 343.1,453.8 346.9,455.4 350.0,456.9 352.5,459.3 358.8,461.8 370.0,463.5 382.3,465.6 383.8,465.6 383.8,472.1 396.7,472.1 396.7,472.8 398.2,472.8 398.2,477.2 411.2,477.2 411.2,477.2 414.1,477.2 414.1,481.5 415.5,481.5 415.5,484.4 449.5,484.4 449.5,502.9 449.5,502.9" fill="none" stroke="#5b2a86" stroke-width="1.3" stroke-dasharray="4,1.5,1,1.5" stroke-linejoin="round"/>
<path d="M311.5,421.4 317.7,431.5 322.3,437.7 326.2,443.8 331.5,446.2 339.2,447.7 343.1,451.5 350.0,452.3 355.0,453.0 361.3,454.3 366.3,455.5 370.0,456.1 373.7,457.7 379.4,459.8 382.3,459.8 382.3,463.5 389.5,463.5 389.5,464.9 411.2,464.9 411.2,467.8 418.4,467.8 418.4,473.6 438.5,473.6 438.5,473.6 440.3,479.1 443.8,483.5 479.5,483.5 479.5,490.7 481.9,490.7 481.9,498.9 492.5,498.9 492.5,505.8 503.8,505.8 503.8,519.5 503.8,519.5" fill="none" stroke="#c8102e" stroke-width="1.3" stroke-linejoin="round"/>
<rect x="42.20" y="13.95" width="209.70" height="108.85" fill="none" stroke="#111111" stroke-width="1.35"/>
<rect x="301.70" y="13.95" width="209.80" height="108.85" fill="none" stroke="#111111" stroke-width="1.35"/>
<rect x="42.20" y="215.85" width="209.70" height="108.85" fill="none" stroke="#111111" stroke-width="1.35"/>
<rect x="301.70" y="214.55" width="209.80" height="108.85" fill="none" stroke="#111111" stroke-width="1.35"/>
<rect x="42.20" y="416.55" width="209.70" height="108.85" fill="none" stroke="#111111" stroke-width="1.35"/>
<rect x="301.70" y="416.60" width="209.80" height="108.85" fill="none" stroke="#111111" stroke-width="1.35"/>
<text x="93.10" y="157.50" font-size="6.8" fill="#1a1a1a">Age group</text>
<rect x="130.80" y="153.40" width="13.40" height="4.4" fill="rgba(200,20,55,0.55)"/>
<line x1="130.80" y1="155.60" x2="144.20" y2="155.60" stroke="#c8102e" stroke-width="1.3"/>
<text x="147.30" y="157.50" font-size="6.8" fill="#1a1a1a">Younger</text>
<rect x="178.70" y="153.40" width="13.20" height="4.4" fill="rgba(150,180,210,0.35)"/>
<line x1="179.70" y1="155.60" x2="191.90" y2="155.60" stroke="#1a528c" stroke-width="1.3" stroke-dasharray="4,3"/>
<text x="194.30" y="157.50" font-size="6.8" fill="#1a1a1a">Older</text>
<text x="42.00" y="165.90" font-size="6.4" textLength="38.4" lengthAdjust="spacingAndGlyphs" fill="#1a1a1a">Number at risk</text>
<line x1="36.20" y1="174.80" x2="40.90" y2="174.80" stroke="#1a528c" stroke-width="1.2"/>
<text x="47.70" y="176.80" font-size="6.3" fill="#1a1a1a">279</text>
<text x="112.40" y="176.80" font-size="6.3" fill="#1a1a1a">117</text>
<text x="176.20" y="176.80" font-size="6.3" fill="#1a1a1a">34</text>
<text x="240.20" y="176.80" font-size="6.3" fill="#1a1a1a">0</text>
<line x1="36.20" y1="185.80" x2="40.90" y2="185.80" stroke="#c8102e" stroke-width="1.2"/>
<text x="47.70" y="187.80" font-size="6.3" fill="#1a1a1a">67</text>
<text x="112.40" y="187.80" font-size="6.3" fill="#1a1a1a">20</text>
<text x="176.20" y="187.80" font-size="6.3" fill="#1a1a1a">3</text>
<text x="240.20" y="187.80" font-size="6.3" fill="#1a1a1a">0</text>
<text x="93.10" y="357.50" font-size="6.8" fill="#1a1a1a">Age group</text>
<rect x="130.80" y="353.40" width="13.40" height="4.4" fill="rgba(200,20,55,0.55)"/>
<line x1="130.80" y1="355.60" x2="144.20" y2="355.60" stroke="#c8102e" stroke-width="1.3"/>
<text x="147.30" y="357.50" font-size="6.8" fill="#1a1a1a">Younger</text>
<rect x="178.70" y="353.40" width="13.20" height="4.4" fill="rgba(150,180,210,0.35)"/>
<line x1="179.70" y1="355.60" x2="191.90" y2="355.60" stroke="#1a528c" stroke-width="1.3" stroke-dasharray="4,3"/>
<text x="194.30" y="357.50" font-size="6.8" fill="#1a1a1a">Older</text>
<text x="42.00" y="368.90" font-size="6.4" textLength="38.4" lengthAdjust="spacingAndGlyphs" fill="#1a1a1a">Number at risk</text>
<line x1="36.20" y1="377.30" x2="40.90" y2="377.30" stroke="#1a528c" stroke-width="1.2"/>
<text x="47.70" y="379.30" font-size="6.3" fill="#1a1a1a">279</text>
<text x="112.40" y="379.30" font-size="6.3" fill="#1a1a1a">117</text>
<text x="176.20" y="379.30" font-size="6.3" fill="#1a1a1a">34</text>
<text x="240.20" y="379.30" font-size="6.3" fill="#1a1a1a">0</text>
<line x1="36.20" y1="388.30" x2="40.90" y2="388.30" stroke="#c8102e" stroke-width="1.2"/>
<text x="47.70" y="390.30" font-size="6.3" fill="#1a1a1a">67</text>
<text x="112.40" y="390.30" font-size="6.3" fill="#1a1a1a">20</text>
<text x="176.20" y="390.30" font-size="6.3" fill="#1a1a1a">3</text>
<text x="240.20" y="390.30" font-size="6.3" fill="#1a1a1a">0</text>
<text x="93.10" y="557.60" font-size="6.8" fill="#1a1a1a">Age group</text>
<rect x="130.80" y="553.50" width="13.40" height="4.4" fill="rgba(200,20,55,0.55)"/>
<line x1="130.80" y1="555.70" x2="144.20" y2="555.70" stroke="#c8102e" stroke-width="1.3"/>
<text x="147.30" y="557.60" font-size="6.8" fill="#1a1a1a">Younger</text>
<rect x="178.70" y="553.50" width="13.20" height="4.4" fill="rgba(150,180,210,0.35)"/>
<line x1="179.70" y1="555.70" x2="191.90" y2="555.70" stroke="#1a528c" stroke-width="1.3" stroke-dasharray="4,3"/>
<text x="194.30" y="557.60" font-size="6.8" fill="#1a1a1a">Older</text>
<text x="42.00" y="568.50" font-size="6.4" textLength="38.4" lengthAdjust="spacingAndGlyphs" fill="#1a1a1a">Number at risk</text>
<line x1="36.20" y1="577.20" x2="40.90" y2="577.20" stroke="#1a528c" stroke-width="1.2"/>
<text x="47.70" y="579.20" font-size="6.3" fill="#1a1a1a">279</text>
<text x="112.40" y="579.20" font-size="6.3" fill="#1a1a1a">129</text>
<text x="176.20" y="579.20" font-size="6.3" fill="#1a1a1a">38</text>
<text x="240.20" y="579.20" font-size="6.3" fill="#1a1a1a">1</text>
<line x1="36.20" y1="588.20" x2="40.90" y2="588.20" stroke="#c8102e" stroke-width="1.2"/>
<text x="47.70" y="590.20" font-size="6.3" fill="#1a1a1a">67</text>
<text x="112.40" y="590.20" font-size="6.3" fill="#1a1a1a">25</text>
<text x="176.20" y="590.20" font-size="6.3" fill="#1a1a1a">5</text>
<text x="240.20" y="590.20" font-size="6.3" fill="#1a1a1a">0</text>
<text x="309.90" y="157.60" font-size="6.8" fill="#1a1a1a">Histology</text>
<rect x="344.20" y="153.20" width="13.50" height="4.4" fill="rgba(200,20,55,0.55)"/>
<line x1="344.20" y1="155.40" x2="357.70" y2="155.40" stroke="#c8102e" stroke-width="1.3"/>
<text x="360.20" y="157.60" font-size="6.8" fill="#1a1a1a">DLBCL</text>
<rect x="386.00" y="153.20" width="12.80" height="4.4" fill="rgba(150,180,210,0.35)"/>
<line x1="387.00" y1="155.40" x2="398.80" y2="155.40" stroke="#1a528c" stroke-width="1.3" stroke-dasharray="4,3"/>
<text x="401.60" y="157.60" font-size="6.8" fill="#1a1a1a">FL and other</text>
<rect x="447.40" y="153.20" width="13.50" height="4.4" fill="rgba(150,215,150,0.35)"/>
<line x1="447.90" y1="155.40" x2="460.90" y2="155.40" stroke="#2fb12f" stroke-width="1.1" stroke-dasharray="1,1"/>
<text x="463.80" y="157.60" font-size="6.8" fill="#1a1a1a">MCL</text>
<rect x="481.00" y="153.20" width="13.90" height="4.4" fill="rgba(110,60,150,0.55)"/>
<line x1="481.00" y1="155.40" x2="494.90" y2="155.40" stroke="#5b2a86" stroke-width="1.3" stroke-dasharray="3,1,1,1"/>
<text x="497.70" y="157.60" font-size="6.8" fill="#1a1a1a">TCL</text>
<text x="302.00" y="165.50" font-size="6.4" textLength="37.5" lengthAdjust="spacingAndGlyphs" fill="#1a1a1a">Number at risk</text>
<line x1="295.60" y1="171.00" x2="300.80" y2="171.00" stroke="#c8102e" stroke-width="1.2"/>
<text x="307.10" y="173.80" font-size="6.1" fill="#1a1a1a">136</text>
<text x="371.30" y="173.80" font-size="6.1" fill="#1a1a1a">42</text>
<text x="435.50" y="173.80" font-size="6.1" fill="#1a1a1a">11</text>
<text x="499.90" y="173.80" font-size="6.1" fill="#1a1a1a">0</text>
<line x1="295.60" y1="176.67" x2="300.80" y2="176.67" stroke="#1a528c" stroke-width="1.2"/>
<text x="307.10" y="179.47" font-size="6.1" fill="#1a1a1a">30</text>
<text x="371.30" y="179.47" font-size="6.1" fill="#1a1a1a">14</text>
<text x="435.50" y="179.47" font-size="6.1" fill="#1a1a1a">5</text>
<text x="499.90" y="179.47" font-size="6.1" fill="#1a1a1a">0</text>
<line x1="295.60" y1="182.34" x2="300.80" y2="182.34" stroke="#2fb12f" stroke-width="1.1" stroke-dasharray="1,1.6"/>
<text x="307.10" y="185.14" font-size="6.1" fill="#1a1a1a">119</text>
<text x="371.30" y="185.14" font-size="6.1" fill="#1a1a1a">64</text>
<text x="435.50" y="185.14" font-size="6.1" fill="#1a1a1a">19</text>
<text x="499.90" y="185.14" font-size="6.1" fill="#1a1a1a">0</text>
<line x1="295.60" y1="188.01" x2="300.80" y2="188.01" stroke="#5b2a86" stroke-width="1.2"/>
<text x="307.10" y="190.81" font-size="6.1" fill="#1a1a1a">61</text>
<text x="371.30" y="190.81" font-size="6.1" fill="#1a1a1a">17</text>
<text x="435.50" y="190.81" font-size="6.1" fill="#1a1a1a">2</text>
<text x="499.90" y="190.81" font-size="6.1" fill="#1a1a1a">0</text>
<text x="309.90" y="357.80" font-size="6.8" fill="#1a1a1a">Histology</text>
<rect x="344.20" y="353.40" width="13.50" height="4.4" fill="rgba(200,20,55,0.55)"/>
<line x1="344.20" y1="355.60" x2="357.70" y2="355.60" stroke="#c8102e" stroke-width="1.3"/>
<text x="360.20" y="357.80" font-size="6.8" fill="#1a1a1a">DLBCL</text>
<rect x="386.00" y="353.40" width="12.80" height="4.4" fill="rgba(150,180,210,0.35)"/>
<line x1="387.00" y1="355.60" x2="398.80" y2="355.60" stroke="#1a528c" stroke-width="1.3" stroke-dasharray="4,3"/>
<text x="401.60" y="357.80" font-size="6.8" fill="#1a1a1a">FL and other</text>
<rect x="447.40" y="353.40" width="13.50" height="4.4" fill="rgba(150,215,150,0.35)"/>
<line x1="447.90" y1="355.60" x2="460.90" y2="355.60" stroke="#2fb12f" stroke-width="1.1" stroke-dasharray="1,1"/>
<text x="463.80" y="357.80" font-size="6.8" fill="#1a1a1a">MCL</text>
<rect x="481.00" y="353.40" width="13.90" height="4.4" fill="rgba(110,60,150,0.55)"/>
<line x1="481.00" y1="355.60" x2="494.90" y2="355.60" stroke="#5b2a86" stroke-width="1.3" stroke-dasharray="3,1,1,1"/>
<text x="497.70" y="357.80" font-size="6.8" fill="#1a1a1a">TCL</text>
<text x="302.00" y="367.50" font-size="6.4" textLength="37.5" lengthAdjust="spacingAndGlyphs" fill="#1a1a1a">Number at risk</text>
<line x1="295.60" y1="373.00" x2="300.80" y2="373.00" stroke="#c8102e" stroke-width="1.2"/>
<text x="307.10" y="375.80" font-size="6.1" fill="#1a1a1a">136</text>
<text x="371.30" y="375.80" font-size="6.1" fill="#1a1a1a">42</text>
<text x="435.50" y="375.80" font-size="6.1" fill="#1a1a1a">11</text>
<text x="499.90" y="375.80" font-size="6.1" fill="#1a1a1a">0</text>
<line x1="295.60" y1="378.67" x2="300.80" y2="378.67" stroke="#1a528c" stroke-width="1.2"/>
<text x="307.10" y="381.47" font-size="6.1" fill="#1a1a1a">30</text>
<text x="371.30" y="381.47" font-size="6.1" fill="#1a1a1a">14</text>
<text x="435.50" y="381.47" font-size="6.1" fill="#1a1a1a">5</text>
<text x="499.90" y="381.47" font-size="6.1" fill="#1a1a1a">0</text>
<line x1="295.60" y1="384.34" x2="300.80" y2="384.34" stroke="#2fb12f" stroke-width="1.1" stroke-dasharray="1,1.6"/>
<text x="307.10" y="387.14" font-size="6.1" fill="#1a1a1a">119</text>
<text x="371.30" y="387.14" font-size="6.1" fill="#1a1a1a">64</text>
<text x="435.50" y="387.14" font-size="6.1" fill="#1a1a1a">19</text>
<text x="499.90" y="387.14" font-size="6.1" fill="#1a1a1a">0</text>
<line x1="295.60" y1="390.01" x2="300.80" y2="390.01" stroke="#5b2a86" stroke-width="1.2"/>
<text x="307.10" y="392.81" font-size="6.1" fill="#1a1a1a">61</text>
<text x="371.30" y="392.81" font-size="6.1" fill="#1a1a1a">17</text>
<text x="435.50" y="392.81" font-size="6.1" fill="#1a1a1a">2</text>
<text x="499.90" y="392.81" font-size="6.1" fill="#1a1a1a">0</text>
<text x="309.90" y="557.80" font-size="6.8" fill="#1a1a1a">Histology</text>
<rect x="344.20" y="553.40" width="13.50" height="4.4" fill="rgba(200,20,55,0.55)"/>
<line x1="344.20" y1="555.60" x2="357.70" y2="555.60" stroke="#c8102e" stroke-width="1.3"/>
<text x="360.20" y="557.80" font-size="6.8" fill="#1a1a1a">DLBCL</text>
<rect x="386.00" y="553.40" width="12.80" height="4.4" fill="rgba(150,180,210,0.35)"/>
<line x1="387.00" y1="555.60" x2="398.80" y2="555.60" stroke="#1a528c" stroke-width="1.3" stroke-dasharray="4,3"/>
<text x="401.60" y="557.80" font-size="6.8" fill="#1a1a1a">FL and other</text>
<rect x="447.40" y="553.40" width="13.50" height="4.4" fill="rgba(150,215,150,0.35)"/>
<line x1="447.90" y1="555.60" x2="460.90" y2="555.60" stroke="#2fb12f" stroke-width="1.1" stroke-dasharray="1,1"/>
<text x="463.80" y="557.80" font-size="6.8" fill="#1a1a1a">MCL</text>
<rect x="481.00" y="553.40" width="13.90" height="4.4" fill="rgba(110,60,150,0.55)"/>
<line x1="481.00" y1="555.60" x2="494.90" y2="555.60" stroke="#5b2a86" stroke-width="1.3" stroke-dasharray="3,1,1,1"/>
<text x="497.70" y="557.80" font-size="6.8" fill="#1a1a1a">TCL</text>
<text x="302.00" y="567.50" font-size="6.4" textLength="37.5" lengthAdjust="spacingAndGlyphs" fill="#1a1a1a">Number at risk</text>
<line x1="295.60" y1="573.00" x2="300.80" y2="573.00" stroke="#c8102e" stroke-width="1.2"/>
<text x="307.10" y="575.80" font-size="6.1" fill="#1a1a1a">136</text>
<text x="371.30" y="575.80" font-size="6.1" fill="#1a1a1a">48</text>
<text x="435.50" y="575.80" font-size="6.1" fill="#1a1a1a">13</text>
<text x="499.90" y="575.80" font-size="6.1" fill="#1a1a1a">1</text>
<line x1="295.60" y1="578.67" x2="300.80" y2="578.67" stroke="#1a528c" stroke-width="1.2"/>
<text x="307.10" y="581.47" font-size="6.1" fill="#1a1a1a">30</text>
<text x="371.30" y="581.47" font-size="6.1" fill="#1a1a1a">16</text>
<text x="435.50" y="581.47" font-size="6.1" fill="#1a1a1a">5</text>
<text x="499.90" y="581.47" font-size="6.1" fill="#1a1a1a">0</text>
<line x1="295.60" y1="584.34" x2="300.80" y2="584.34" stroke="#2fb12f" stroke-width="1.1" stroke-dasharray="1,1.6"/>
<text x="307.10" y="587.14" font-size="6.1" fill="#1a1a1a">119</text>
<text x="371.30" y="587.14" font-size="6.1" fill="#1a1a1a">70</text>
<text x="435.50" y="587.14" font-size="6.1" fill="#1a1a1a">22</text>
<text x="499.90" y="587.14" font-size="6.1" fill="#1a1a1a">0</text>
<line x1="295.60" y1="590.01" x2="300.80" y2="590.01" stroke="#5b2a86" stroke-width="1.2"/>
<text x="307.10" y="592.81" font-size="6.1" fill="#1a1a1a">61</text>
<text x="371.30" y="592.81" font-size="6.1" fill="#1a1a1a">20</text>
<text x="435.50" y="592.81" font-size="6.1" fill="#1a1a1a">3</text>
<text x="499.90" y="592.81" font-size="6.1" fill="#1a1a1a">0</text>
<rect x="0.5" y="0.5" width="519" height="598" fill="none" stroke="#000" stroke-width="1"/>
</svg></body></html>
